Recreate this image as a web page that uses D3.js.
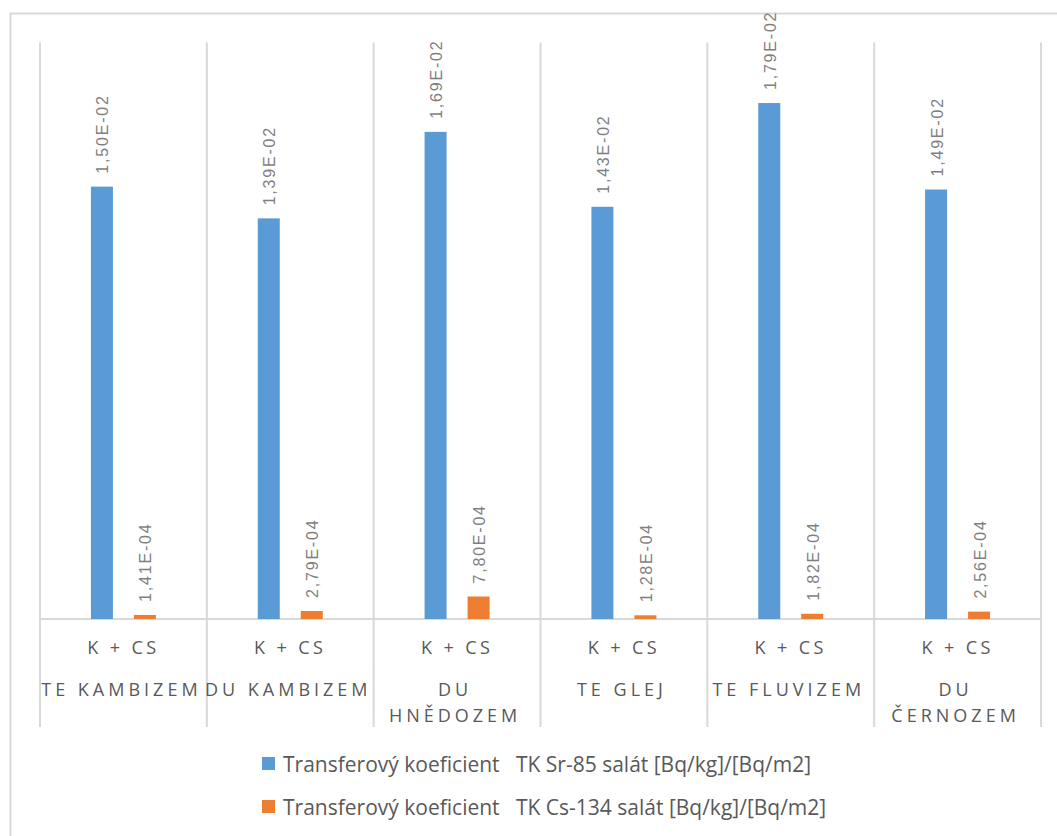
<!DOCTYPE html>
<html>
<head>
<meta charset="utf-8">
<script src="https://cdn.jsdelivr.net/npm/d3@7"></script>
<style>
  html, body { margin: 0; padding: 0; background: #fff; }
  svg { display: block; }
</style>
</head>
<body>
<svg id="chart" width="1057" height="836"></svg>
<script>
// Soil / treatment categories (two-level axis)
const groupLabel = ["K + CS", "K + CS", "K + CS", "K + CS", "K + CS", "K + CS"];
const soilLabel = [
  ["TE KAMBIZEM"],
  ["DU KAMBIZEM"],
  ["DU", "HNĚDOZEM"],
  ["TE GLEJ"],
  ["TE FLUVIZEM"],
  ["DU", "ČERNOZEM"]
];
const categories = ["te-kambizem", "du-kambizem", "du-hnedozem", "te-glej", "te-fluvizem", "du-cernozem"];

// Transfer coefficients [Bq/kg]/[Bq/m2]
const srValues = [1.50e-2, 1.39e-2, 1.69e-2, 1.43e-2, 1.79e-2, 1.49e-2];
const csValues = [1.41e-4, 2.79e-4, 7.80e-4, 1.28e-4, 1.82e-4, 2.56e-4];

const seriesNames = [
  "Transferový koeficient   TK Sr-85 salát [Bq/kg]/[Bq/m2]",
  "Transferový koeficient   TK Cs-134 salát [Bq/kg]/[Bq/m2]"
];
const seriesColors = ["#5B9BD5", "#ED7D31"];
const yDomain = [0, 0.02];

// "1,50E-02" style scientific format
function sci(v) {
  const [m, e] = v.toExponential(2).split("e");
  const ei = parseInt(e, 10);
  const es = (ei < 0 ? "-" : "+") + String(Math.abs(ei)).padStart(2, "0");
  return m.replace(".", ",") + "E" + es;
}

const svg = d3.select("#chart");

// chart frame
svg.append("rect")
  .attr("x", 10.5).attr("y", 13.5)
  .attr("width", 1100).attr("height", 900)
  .attr("fill", "none").attr("stroke", "#d9d9d9").attr("stroke-width", 2);

const plotLeft = 40, plotRight = 1041, plotTop = 42.5, baseY = 619;

const x = d3.scaleBand().domain(categories).range([plotLeft, plotRight]).padding(0);
const y = d3.scaleLinear().domain(yDomain).range([baseY, plotTop]);

// category separators running down through the axis labels
const seps = categories.map(c => x(c)).concat([plotRight]);
svg.append("g").selectAll("line").data(seps).join("line")
  .attr("x1", d => d).attr("x2", d => d)
  .attr("y1", plotTop).attr("y2", 727)
  .attr("stroke", "#d9d9d9").attr("stroke-width", 2);

// baseline
svg.append("line")
  .attr("x1", plotLeft).attr("x2", plotRight)
  .attr("y1", baseY).attr("y2", baseY)
  .attr("stroke", "#d9d9d9").attr("stroke-width", 2);

const series = [srValues, csValues];
const rows = [];
categories.forEach((c, i) => {
  series.forEach((vals, s) => rows.push({ c, s, v: vals[i] }));
});

function inner(c) {
  const cx = x(c) + x.bandwidth() / 2;
  return d3.scaleBand().domain([0, 1]).range([cx - 32.5, cx + 32.5]).paddingInner(0.488).paddingOuter(0);
}

const g = svg.append("g");
g.selectAll("rect").data(rows).join("rect")
  .attr("x", d => inner(d.c)(d.s))
  .attr("width", d => inner(d.c).bandwidth())
  .attr("y", d => y(d.v))
  .attr("height", d => baseY - y(d.v))
  .attr("fill", d => seriesColors[d.s]);

// value labels, rotated
g.selectAll("text").data(rows).join("text")
  .attr("transform", d => {
    const sc = inner(d.c);
    const cx = sc(d.s) + sc.bandwidth() / 2 + 1;
    return `translate(${cx},${y(d.v) - 13}) rotate(-90)`;
  })
  .attr("text-anchor", "start")
  .attr("dominant-baseline", "central")
  .attr("font-family", "'Liberation Sans', Arial, sans-serif")
  .attr("font-size", 16)
  .attr("letter-spacing", 1.8)
  .attr("fill", "#7f7f7f")
  .text(d => sci(d.v));

// category labels
const catG = svg.append("g")
  .attr("font-family", "'Open Sans', 'Liberation Sans', sans-serif")
  .attr("font-size", 18)
  .attr("fill", "#595959")
  .attr("text-anchor", "middle");

categories.forEach((c, i) => {
  const cx = x(c) + x.bandwidth() / 2;
  catG.append("text")
    .attr("x", cx).attr("y", 646.5)
    .attr("dominant-baseline", "central")
    .attr("letter-spacing", 3.4)
    .text(groupLabel[i]);
  soilLabel[i].forEach((line, j) => {
    catG.append("text")
      .attr("x", cx - 2).attr("y", 688.5 + j * 26)
      .attr("dominant-baseline", "central")
      .attr("letter-spacing", 4)
      .text(line);
  });
});

// legend
const leg = svg.append("g")
  .attr("font-family", "'Open Sans', 'Liberation Sans', sans-serif")
  .attr("font-size", 21)
  .attr("fill", "#595959");
seriesNames.forEach((name, i) => {
  const ly = 763.5 + i * 43;
  leg.append("rect")
    .attr("x", 262).attr("y", ly - 6.5)
    .attr("width", 13).attr("height", 13)
    .attr("fill", seriesColors[i]);
  leg.append("text")
    .attr("x", 283).attr("y", ly)
    .attr("dominant-baseline", "central")
    .attr("xml:space", "preserve")
    .style("white-space", "pre")
    .text(name);
});
</script>
</body>
</html>
